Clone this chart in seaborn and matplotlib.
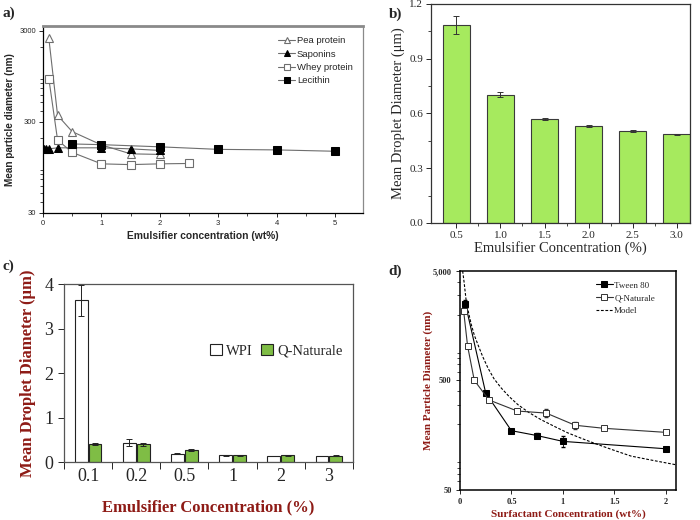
import numpy as np
import pandas as pd
import matplotlib
matplotlib.use('Agg')
import matplotlib.pyplot as plt
from matplotlib.ticker import FixedLocator, LogLocator, NullFormatter, FixedFormatter, MultipleLocator
import seaborn as sns

# a) mean particle diameter (nm) vs emulsifier concentration (wt%)
pea_x = [0.1, 0.25, 0.5, 1.0, 1.5, 2.0]
pea_y = [2500, 355, 235, 168, 134, 132]
sap_x = [0.01, 0.05, 0.1, 0.25, 0.5, 1.0, 1.5, 2.0]
sap_y = [152, 152, 152, 156, 156, 156, 152, 146]
whey_x = [0.1, 0.25, 0.5, 1.0, 1.5, 2.0, 2.5]
whey_y = [900, 190, 139, 104, 102, 104, 105]
lec_x = [0.5, 1.0, 2.0, 3.0, 4.0, 5.0]
lec_y = [172, 169, 160, 150, 148, 143]

# b) mean droplet diameter (um)
b_conc = ['0.5', '1.0', '1.5', '2.0', '2.5', '3.0']
b_mean = [1.085, 0.703, 0.570, 0.533, 0.505, 0.485]
b_err = [0.050, 0.014, 0.006, 0.005, 0.005, 0.005]

# c) WPI vs Q-Naturale
c_conc = ['0.1', '0.2', '0.5', '1', '2', '3']
wpi_mean = [3.63, 0.43, 0.19, 0.15, 0.135, 0.135]
wpi_err = [0.34, 0.08, 0.01, 0.01, 0.008, 0.008]
qn_mean = [0.41, 0.40, 0.27, 0.155, 0.15, 0.14]
qn_err = [0.02, 0.03, 0.03, 0.01, 0.01, 0.01]

# d) mean particle diameter (nm) vs surfactant concentration (wt%)
tw_x = [0.052, 0.25, 0.5, 0.75, 1.0, 2.0]
tw_y = [2516, 385, 174, 157, 139, 119]
tw_err = [200, 10, 5, 9, 16, 5]
qd_x = [0.036, 0.074, 0.139, 0.282, 0.557, 0.838, 1.12, 1.398, 2.0]
qd_y = [2143, 1033, 502, 332, 263, 252, 195, 183, 168]
qd_err = [60, 25, 8, 6, 5, 20, 13, 4, 4]
model_x = [0.026, 0.039, 0.061, 0.085, 0.11, 0.14, 0.175, 0.22, 0.272, 0.33, 0.401, 0.48,
           0.563, 0.67, 0.789, 0.92, 1.049, 1.19, 1.34, 1.5, 1.663, 1.88, 2.1]
model_y = [5000, 4030, 2640, 2050, 1620, 1290, 1060, 830, 650, 520, 427, 355,
           301, 255, 219, 190, 166, 147, 130, 115, 102, 93, 85]

sns.set_style('ticks')
plt.rcParams['font.family'] = ['Liberation Sans', 'DejaVu Sans']
plt.rcParams['axes.linewidth'] = 0.9

SERIF = ['Liberation Serif', 'DejaVu Serif']
DARKRED = '#8e1b16'

fig = plt.figure(figsize=(7, 5.2), dpi=100)

# ---------------- a) ----------------
ax = fig.add_axes([0.0614, 0.5904, 0.4571, 0.3596])
grey = '#6e6e6e'
sns.lineplot(x=pea_x, y=pea_y, ax=ax, color=grey, lw=0.8, marker='^', ms=6,
             mfc='white', mec=grey, mew=0.8, label='Pea protein')
sns.lineplot(x=sap_x, y=sap_y, ax=ax, color=grey, lw=0.8, marker='^', ms=6,
             mfc='black', mec='black', label='Saponins')
sns.lineplot(x=whey_x, y=whey_y, ax=ax, color=grey, lw=0.8, marker='s', ms=6,
             mfc='white', mec=grey, mew=0.8, label='Whey protein')
sns.lineplot(x=lec_x, y=lec_y, ax=ax, color=grey, lw=0.8, marker='s', ms=6,
             mfc='black', mec='black', label='Lecithin')
ax.set_yscale('log')
ax.set_xlim(0, 5.48)
ax.set_ylim(30, 3400)
ax.yaxis.set_major_locator(FixedLocator([30, 300, 3000]))
ax.yaxis.set_major_formatter(FixedFormatter(['30', '300', '3000']))
ax.yaxis.set_minor_locator(LogLocator(subs=np.arange(2, 10)))
ax.yaxis.set_minor_formatter(NullFormatter())
ax.xaxis.set_major_locator(MultipleLocator(1))
ax.xaxis.set_minor_locator(MultipleLocator(0.5))
ax.tick_params(labelsize=5.5, length=3, width=0.7, pad=2)
ax.tick_params(which='minor', length=2, width=0.6)
ax.set_xlabel('Emulsifier concentration (wt%)', fontsize=7.4, fontweight='bold', labelpad=3)
ax.set_ylabel('Mean particle diameter (nm)', fontsize=7.2, fontweight='bold', labelpad=3)
for s in ['left', 'bottom']:
    ax.spines[s].set_color('black')
ax.spines['top'].set_color('#8a8a8a')
ax.spines['top'].set_linewidth(2)
ax.spines['right'].set_color('#8a8a8a')
ax.legend(loc='upper right', bbox_to_anchor=(0.995, 0.99), frameon=False, fontsize=6.8,
          handlelength=1.8, labelspacing=0.45, handletextpad=0.2, markerscale=0.75)

# ---------------- b) ----------------
ax = fig.add_axes([0.6157, 0.5712, 0.3700, 0.4212])
df_b = pd.DataFrame({'conc': b_conc, 'mean': b_mean})
sns.barplot(data=df_b, x='conc', y='mean', ax=ax, color='#a6ea5e', width=0.61,
            edgecolor='#3a3a3a', linewidth=0.8, saturation=1)
xs = [p.get_x() + p.get_width() / 2 for p in ax.containers[0]]
ax.errorbar(xs, b_mean, yerr=b_err, fmt='none', ecolor='#333333', elinewidth=0.7, capsize=2.5, capthick=0.7)
ax.set_xlim(-0.576, 5.3)
ax.set_ylim(0, 1.2)
ax.yaxis.set_major_locator(MultipleLocator(0.3))
ax.yaxis.set_minor_locator(MultipleLocator(0.15))
ax.set_yticklabels([f'{v:.1f}' for v in ax.get_yticks()])
ax.set_xticks(range(len(b_conc)))
ax.set_xticks(np.arange(len(b_conc) - 1) + 0.5, minor=True)
ax.tick_params(labelsize=8, length=3.5, width=0.7, pad=2)
ax.tick_params(which='minor', length=2, width=0.6)
for lab in ax.get_xticklabels() + ax.get_yticklabels():
    lab.set_family(SERIF)
ax.set_xlabel('Emulsifier Concentration (%)', fontsize=10.5, family=SERIF, labelpad=1)
ax.set_ylabel('Mean Droplet Diameter (\u03bcm)', fontsize=10.5, family=SERIF, labelpad=3)
for s in ax.spines.values():
    s.set_color('#333333')

# ---------------- c) ----------------
ax = fig.add_axes([0.0914, 0.1115, 0.4129, 0.3423])
df_c = pd.DataFrame({'conc': c_conc * 2,
                     'mean': wpi_mean + qn_mean,
                     'emulsifier': ['WPI'] * len(c_conc) + ['Q-Naturale'] * len(c_conc)})
sns.barplot(data=df_c, x='conc', y='mean', hue='emulsifier', ax=ax,
            palette={'WPI': 'white', 'Q-Naturale': '#7fbd45'}, width=0.58, gap=0.08,
            edgecolor='#222222', linewidth=0.8, saturation=1)
for cont, err in zip(ax.containers, [wpi_err, qn_err]):
    xs = [p.get_x() + p.get_width() / 2 for p in cont]
    ys = [p.get_height() for p in cont]
    ax.errorbar(xs, ys, yerr=err, fmt='none', ecolor='#222222', elinewidth=0.7, capsize=2.5, capthick=0.7)
ax.set_xlim(-0.5, 5.5)
ax.set_ylim(0, 4)
ax.set_yticks([0, 1, 2, 3, 4])
ax.set_xticks(range(len(c_conc)))
ax.set_xticks(np.arange(len(c_conc) + 1) - 0.5, minor=True)
ax.tick_params(axis='x', which='major', length=0, pad=4)
ax.tick_params(axis='x', which='minor', length=5, width=0.7)
ax.tick_params(axis='y', length=4, width=0.7)
ax.tick_params(labelsize=13)
for lab in ax.get_xticklabels() + ax.get_yticklabels():
    lab.set_family(SERIF)
ax.set_xlabel('Emulsifier Concentration (%)', fontsize=12, family=SERIF, fontweight='bold',
              color=DARKRED, labelpad=11)
ax.set_ylabel('Mean Droplet Diameter (\u03bcm)', fontsize=12, family=SERIF, fontweight='bold',
              color=DARKRED, labelpad=6)
for s in ax.spines.values():
    s.set_color('#555555')
ax.legend(loc='center', bbox_to_anchor=(0.735, 0.625), ncol=2, frameon=False,
          prop={'family': SERIF, 'size': 10.5}, handlelength=0.8, handleheight=0.8,
          handletextpad=0.3, columnspacing=0.6, title=None)

# ---------------- d) ----------------
ax = fig.add_axes([0.6571, 0.0577, 0.3086, 0.4212])
ax.errorbar(tw_x, tw_y, yerr=tw_err, fmt='none', ecolor='black', elinewidth=0.6, capsize=1.2, zorder=1)
ax.errorbar(qd_x, qd_y, yerr=qd_err, fmt='none', ecolor='#333333', elinewidth=0.6, capsize=1.2, zorder=1)
sns.lineplot(x=tw_x, y=tw_y, ax=ax, color='black', lw=0.8, marker='s', ms=3.8,
             mfc='black', mec='black', label='Tween 80', zorder=3)
sns.lineplot(x=qd_x, y=qd_y, ax=ax, color='#333333', lw=0.8, marker='s', ms=3.8,
             mfc='white', mec='#333333', mew=0.7, label='Q-Naturale', zorder=3)
sns.lineplot(x=model_x, y=model_y, ax=ax, color='black', lw=0.8,
             linestyle=(0, (2.5, 1.5)), label='Model', zorder=2)
ax.set_yscale('log')
ax.set_xlim(0, 2.1)
ax.set_ylim(50, 5000)
ax.yaxis.set_major_locator(FixedLocator([50, 500, 5000]))
ax.yaxis.set_major_formatter(FixedFormatter(['50', '500', '5,000']))
ax.yaxis.set_minor_locator(LogLocator(subs=np.arange(2, 10)))
ax.yaxis.set_minor_formatter(NullFormatter())
ax.set_xticks([0, 0.5, 1, 1.5, 2])
ax.set_xticklabels(['0', '0.5', '1', '1.5', '2'])
ax.tick_params(labelsize=6, length=3, width=0.7, pad=3)
ax.tick_params(which='minor', length=2, width=0.6)
for lab in ax.get_xticklabels() + ax.get_yticklabels():
    lab.set_family(SERIF)
    lab.set_fontweight('bold')
ax.set_xlabel('Surfactant Concentration (wt%)', fontsize=8, family=SERIF, fontweight='bold',
              color=DARKRED, labelpad=2)
ax.set_ylabel('Mean Particle Diameter (nm)', fontsize=8, family=SERIF, fontweight='bold',
              color=DARKRED, labelpad=0)
for s in ax.spines.values():
    s.set_color('black')
    s.set_linewidth(1.1)
ax.legend(loc='upper right', bbox_to_anchor=(0.94, 0.99), frameon=False,
          prop={'family': SERIF, 'size': 6.5}, handlelength=1.9, labelspacing=0.5, handletextpad=0.15)

# panel letters
for txt, x, y in [('a)', 0.003, 0.975), ('b)', 0.555, 0.972), ('c)', 0.003, 0.488), ('d)', 0.555, 0.478)]:
    fig.text(x, y, txt, fontsize=11, fontweight='bold', family=SERIF, va='center')

fig.savefig('out.png', dpi=100)
